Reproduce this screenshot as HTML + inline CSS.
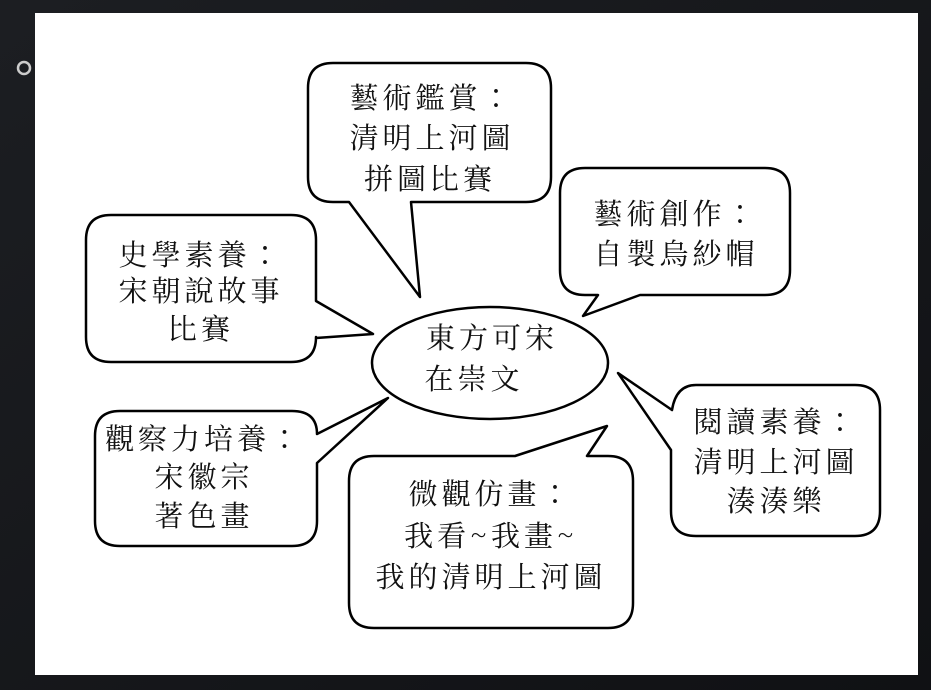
<!DOCTYPE html>
<html><head><meta charset="utf-8"><style>
html,body{margin:0;padding:0;background:#16181c;}
svg{display:block}
text{font-family:"Noto Serif CJK TC","Noto Serif CJK SC","Liberation Serif",serif;font-size:29px;fill:#111;text-anchor:middle;letter-spacing:4px}
</style></head><body>
<svg width="931" height="690" viewBox="0 0 931 690" xmlns="http://www.w3.org/2000/svg">
<defs><linearGradient id="bg" x1="0" y1="0" x2="1" y2="1"><stop offset="0" stop-color="#1c1e22"/><stop offset="1" stop-color="#101114"/></linearGradient></defs>
<rect width="931" height="690" fill="url(#bg)"/>
<rect x="35" y="13" width="883" height="662" fill="#fff"/>
<circle cx="24" cy="68" r="6" fill="none" stroke="#ccc" stroke-width="2.5"/>
<g fill="#fff" stroke="#000" stroke-width="2.5" stroke-linejoin="round">
<path d="M333,63 H526 Q551,63 551,88 V177 Q551,202 526,202 H411 L420,297 L349,202 H333 Q308,202 308,177 V88 Q308,63 333,63 Z"/>
<path d="M585,168 H765 Q790,168 790,193 V270 Q790,295 765,295 H640 L583,316 L598,295 H585 Q560,295 560,270 V193 Q560,168 585,168 Z"/>
<path d="M111,215 H291 Q316,215 316,240 V301 L373,334 L316,338 V337 Q316,362 291,362 H111 Q86,362 86,337 V240 Q86,215 111,215 Z"/>
<path d="M120,411 H292 Q317,411 317,434 L388,398 L317,463 V521 Q317,546 292,546 H120 Q95,546 95,521 V436 Q95,411 120,411 Z"/>
<path d="M374,456 H515 L607,426 L587,456 H608 Q633,456 633,481 V603 Q633,628 608,628 H374 Q349,628 349,603 V481 Q349,456 374,456 Z"/>
<path d="M696,385 H855 Q880,385 880,410 V511 Q880,536 855,536 H696 Q671,536 671,511 V450 L618,373 L672,410 Q676,385 696,385 Z"/>
<ellipse cx="490" cy="363" rx="118" ry="56"/>
</g>
<text x="432" y="108">藝術鑑賞：</text>
<text x="432" y="148">清明上河圖</text>
<text x="430" y="189">拼圖比賽</text>
<text x="676" y="224">藝術創作：</text>
<text x="676" y="264">自製烏紗帽</text>
<text x="201" y="265">史學素養：</text>
<text x="201" y="301">宋朝說故事</text>
<text x="201" y="339">比賽</text>
<text x="492" y="348">東方可宋</text>
<text x="474" y="389">在崇文</text>
<text x="204" y="449">觀察力培養：</text>
<text x="204" y="487">宋徽宗</text>
<text x="204" y="526">著色畫</text>
<text x="491" y="504">微觀仿畫：</text>
<text x="491" y="546">我看~我畫~</text>
<text x="491" y="587">我的清明上河圖</text>
<text x="776" y="432">閱讀素養：</text>
<text x="776" y="472">清明上河圖</text>
<text x="776" y="511">湊湊樂</text>
</svg>
</body></html>
